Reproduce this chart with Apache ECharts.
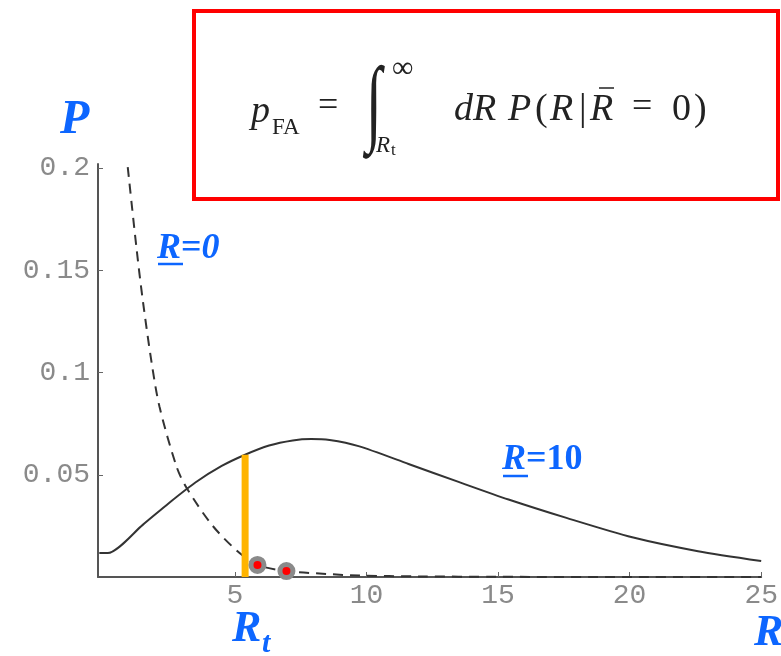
<!DOCTYPE html>
<html><head><meta charset="utf-8">
<script src="https://cdn.jsdelivr.net/npm/echarts@6/dist/echarts.min.js"></script>
<style>html,body{margin:0;padding:0;background:#fff}#c{width:781px;height:656px}</style>
</head><body><div id="c"></div>
<script>
// R-bar = 10 curve (solid)
const solidR = [-0.15, 0.17, 1.5, 2.5, 3.5, 4.5, 5.39, 6.3, 7.2, 7.9, 8.6, 9.7, 11.6, 13.5, 15.4, 17.6, 20.1, 22.6, 25.0];
const solidP = [0.0117, 0.0117, 0.0255, 0.0362, 0.0462, 0.0543, 0.0598, 0.0643, 0.0668, 0.0675, 0.0670, 0.0640, 0.0553, 0.0465, 0.0379, 0.0289, 0.0194, 0.0126, 0.0078];
// R-bar = 0 curve (dashed)
const dashR = [0.93, 1.27, 1.50, 1.84, 2.14, 2.79, 3.17, 4.16, 5.18, 5.86, 6.96, 8.48, 9.73, 12, 15, 20, 25];
const dashP = [0.2005, 0.160, 0.1355, 0.1046, 0.0831, 0.0538, 0.0435, 0.025, 0.0117, 0.0059, 0.0029, 0.0015, 0.0007, 0.0003, 0.0001, 0, 0];
// threshold R_t
const thresholdR = [5.39, 5.39];
const thresholdP = [0, 0.0598];
// marked points
const markR = [5.86, 6.96];
const markP = [0.0059, 0.0029];
const xTicks = [5, 10, 15, 20, 25];
const yTicks = [0.05, 0.1, 0.15, 0.2];

const zip = (a, b) => a.map((v, i) => [v, b[i]]);
const BLUE = '#0d66ff';
const tickFont = {fontFamily: 'Liberation Mono', fontSize: 28, color: '#8a8a8a'};
const serif = 'Liberation Serif';

const chart = echarts.init(document.getElementById('c'), null, {renderer: 'canvas'});

function txt(x, y, text, font, extra) {
  return Object.assign({type: 'text', x: x, y: y, z: 10,
    style: Object.assign({text: text, font: font, fill: '#222', textVerticalAlign: 'middle'}, extra || {})});
}

const graphics = [
  {type: 'rect', shape: {x: 194, y: 11, width: 584, height: 188}, style: {fill: '#fff', stroke: '#ff0000', lineWidth: 4}, z: 5},
  // formula
  txt(251, 112, 'p', 'italic 38px ' + serif),
  txt(272, 128, 'FA', '23px ' + serif),
  txt(318, 107, '=', '36px ' + serif),
  {type: 'text', x: 366, y: 108, scaleY: 1.65, z: 10, style: {text: '∫', font: '58px ' + serif, fill: '#222', textVerticalAlign: 'middle'}},
  txt(392, 69, '∞', '30px ' + serif),
  txt(376, 146, 'R', 'italic 23px ' + serif),
  txt(391, 151, 't', '17px ' + serif),
  txt(454, 110, 'dR', 'italic 38px ' + serif),
  txt(508, 110, 'P', 'italic 38px ' + serif),
  txt(535, 110, '(', '38px ' + serif),
  txt(550, 110, 'R', 'italic 38px ' + serif),
  txt(579, 110, '|', '38px ' + serif),
  txt(590, 110, 'R', 'italic 38px ' + serif),
  {type: 'line', shape: {x1: 599, y1: 88, x2: 614, y2: 88}, style: {stroke: '#222', lineWidth: 1.5}, z: 10},
  txt(632, 108, '=', '36px ' + serif),
  txt(672, 110, '0', '38px ' + serif),
  txt(694, 110, ')', '38px ' + serif),
  // blue annotations
  txt(60, 121, 'P', 'italic bold 48px ' + serif, {fill: BLUE}),
  {type: 'text', x: 157, y: 249, z: 10, style: {text: '{a|R}{b|=}{a|0}', textVerticalAlign: 'middle',
    rich: {a: {font: 'italic bold 36px ' + serif, fill: BLUE}, b: {font: 'bold 36px ' + serif, fill: BLUE}}}},
  {type: 'line', shape: {x1: 158, y1: 264, x2: 183, y2: 264}, style: {stroke: BLUE, lineWidth: 2.5}, z: 10},
  {type: 'text', x: 502, y: 460, z: 10, style: {text: '{a|R}{b|=10}', textVerticalAlign: 'middle',
    rich: {a: {font: 'italic bold 36px ' + serif, fill: BLUE}, b: {font: 'bold 36px ' + serif, fill: BLUE}}}},
  {type: 'line', shape: {x1: 503, y1: 476, x2: 528, y2: 476}, style: {stroke: BLUE, lineWidth: 2.5}, z: 10},
  txt(232, 630, 'R', 'italic bold 44px ' + serif, {fill: BLUE}),
  txt(262, 644, 't', 'italic bold 30px ' + serif, {fill: BLUE}),
  txt(754, 634, 'R', 'italic bold 44px ' + serif, {fill: BLUE})
];

chart.setOption({
  backgroundColor: '#fff',
  animation: false,
  grid: {left: 98, right: 19, top: 164, bottom: 79, containLabel: false},
  xAxis: {
    type: 'value', min: -0.2, max: 25,
    splitLine: {show: false},
    axisLine: {onZero: false, lineStyle: {color: '#555', width: 2}},
    axisTick: {inside: true, length: 5, lineStyle: {color: '#666'}, customValues: xTicks},
    axisLabel: Object.assign({customValues: xTicks, margin: 5}, tickFont)
  },
  yAxis: {
    type: 'value', min: 0, max: 0.202,
    splitLine: {show: false},
    axisLine: {show: true, onZero: false, lineStyle: {color: '#555', width: 2}},
    axisTick: {show: true, inside: true, length: 5, lineStyle: {color: '#666'}, customValues: yTicks},
    axisLabel: Object.assign({customValues: yTicks, margin: 8}, tickFont)
  },
  series: [
    {type: 'line', data: zip(solidR, solidP), smooth: 0.25, showSymbol: false,
     lineStyle: {color: '#333', width: 2}, z: 2},
    {type: 'line', data: zip(dashR, dashP), smooth: 0.3, showSymbol: false,
     lineStyle: {color: '#333', width: 2, type: [10, 7]}, z: 2},
    {type: 'line', data: zip(thresholdR, thresholdP), showSymbol: false,
     lineStyle: {color: '#ffb400', width: 7}, z: 3},
    {type: 'scatter', data: zip(markR, markP), symbol: 'circle', symbolSize: 13,
     itemStyle: {color: '#ff0000', borderColor: '#8a8a8a', borderWidth: 5, opacity: 1}, z: 4}
  ],
  graphic: graphics
});
</script>
</body></html>
